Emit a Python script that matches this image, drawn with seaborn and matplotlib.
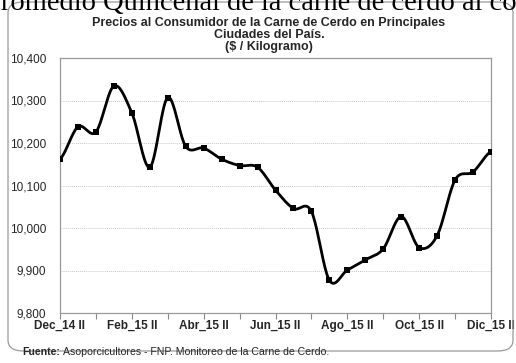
import numpy as np
import pandas as pd
import matplotlib
matplotlib.use("Agg")
import matplotlib.pyplot as plt
import seaborn as sns
from matplotlib.patches import FancyBboxPatch

# Biweekly consumer prices of pork ($ / kg), Dec 2014 (II) to Dec 2015 (II)
periods = ["Dec_14 II", "Ene_15 I", "Ene_15 II", "Feb_15 I", "Feb_15 II",
           "Mar_15 I", "Mar_15 II", "Abr_15 I", "Abr_15 II", "May_15 I",
           "May_15 II", "Jun_15 I", "Jun_15 II", "Jul_15 I", "Jul_15 II",
           "Ago_15 I", "Ago_15 II", "Sep_15 I", "Sep_15 II", "Oct_15 I",
           "Oct_15 II", "Nov_15 I", "Nov_15 II", "Dic_15 I", "Dic_15 II"]
prices = [10162, 10238, 10226, 10334, 10271, 10143, 10307, 10192, 10188,
          10162, 10147, 10143, 10089, 10046, 10039, 9877, 9901, 9925, 9951,
          10027, 9954, 9982, 10113, 10132, 10180]
tick_labels = ["Dec_14 II", "Feb_15 II", "Abr_15 II", "Jun_15 II",
               "Ago_15 II", "Oct_15 II", "Dic_15 II"]
y_ticks = [9800, 9900, 10000, 10100, 10200, 10300, 10400]

df = pd.DataFrame({"idx": np.arange(len(prices)), "periodo": periods,
                   "precio": prices})


def catmull_rom(x, y, n=20):
    """Smoothed curve through the points (uniform Catmull-Rom)."""
    x = np.asarray(x, float)
    y = np.asarray(y, float)
    px = np.concatenate([[2 * x[0] - x[1]], x, [2 * x[-1] - x[-2]]])
    py = np.concatenate([[y[0]], y, [y[-1]]])
    xs, ys = [], []
    t = np.linspace(0, 1, n, endpoint=False)
    for i in range(1, len(px) - 2):
        p0, p1, p2, p3 = py[i - 1], py[i], py[i + 1], py[i + 2]
        c1 = p1 + (p2 - p0) / 6
        c2 = p2 - (p3 - p1) / 6
        yy = ((1 - t) ** 3 * p1 + 3 * (1 - t) ** 2 * t * c1
              + 3 * (1 - t) * t ** 2 * c2 + t ** 3 * p2)
        xx = px[i] + (px[i + 1] - px[i]) * t
        xs.append(xx)
        ys.append(yy)
    xs.append([x[-1]])
    ys.append([y[-1]])
    return np.concatenate(xs), np.concatenate(ys)


sx, sy = catmull_rom(df["idx"], df["precio"])
smooth = pd.DataFrame({"idx": sx, "precio": sy})

sns.set_theme(style="white")
plt.rcParams["font.family"] = ["Liberation Sans", "DejaVu Sans"]

fig = plt.figure(figsize=(5.16, 3.63), dpi=100)
W, H = 516, 363
ax = fig.add_axes([60 / W, 1 - 313 / H, (491 - 60) / W, (313 - 58) / H])

# Rounded frame around the chart
frame = FancyBboxPatch((8 / W, 12 / H), (513 - 8) / W, (361 - 12) / H,
                       boxstyle="round,pad=0,rounding_size=0.03",
                       transform=fig.transFigure, fill=False,
                       edgecolor="#9a9a9a", linewidth=0.9, zorder=0)
fig.patches.append(frame)

# Heading text of the surrounding document
fig.text(-15 / W, 1 - 10 / H,
         "Promedio Quincenal de la carne de cerdo al consumidor",
         family="Liberation Serif", fontsize=20.5, color="black",
         ha="left", va="baseline")

sns.lineplot(data=smooth, x="idx", y="precio", ax=ax, color="black",
             linewidth=2.0, zorder=3)
sns.scatterplot(data=df, x="idx", y="precio", ax=ax, color="black",
                marker="s", s=18, edgecolor="black", linewidth=0, zorder=4)

ax.set_xlim(0, len(prices) - 1)
ax.set_ylim(9800, 10400)
ax.set_yticks(y_ticks)
ax.set_yticklabels([f"{v:,}" for v in y_ticks], fontsize=8.5)
ax.xaxis.remove_overlapping_locs = False
ax.set_xticks(np.arange(0, len(prices), 2), minor=False)
ax.set_xticklabels(["" for _ in range(0, len(prices), 2)])
ax.set_xticks(np.arange(0, len(prices), 4), minor=True)
ax.set_xticklabels(tick_labels, minor=True, fontsize=8.5, fontweight="bold")
ax.tick_params(axis="x", which="major", direction="out", length=4,
               width=0.8, color="#8a8a8a", bottom=True)
ax.tick_params(axis="x", which="minor", length=0, pad=5, bottom=True)
ax.tick_params(axis="y", length=0, pad=10)
ax.set_xlabel("")
ax.set_ylabel("")

for v in y_ticks[1:-1]:
    ax.axhline(v, color="#c8c8c8", linewidth=0.7, linestyle=(0, (1, 1)),
               zorder=1)
for s in ax.spines.values():
    s.set_color("#9a9a9a")
    s.set_linewidth(0.9)

fig.text(269 / W, 1 - 35 / H,
         "Precios al Consumidor de la Carne de Cerdo en Principales\n"
         "Ciudades del País.\n($ / Kilogramo)",
         ha="center", va="center", fontsize=9, fontweight="bold",
         linespacing=1.02)

# Source note: bold lead-in followed by plain text
fig.canvas.draw()
lead = fig.text(22 / W, 1 - 352 / H, "Fuente:", fontsize=7.6,
                fontweight="bold", ha="left", va="center")
bb = lead.get_window_extent(renderer=fig.canvas.get_renderer())
fig.text(bb.x1 / W + 3 / W, 1 - 352 / H,
         "Asoporcicultores - FNP. Monitoreo de la Carne de Cerdo.",
         fontsize=7.6, ha="left", va="center")

fig.savefig("out.png", dpi=100)
